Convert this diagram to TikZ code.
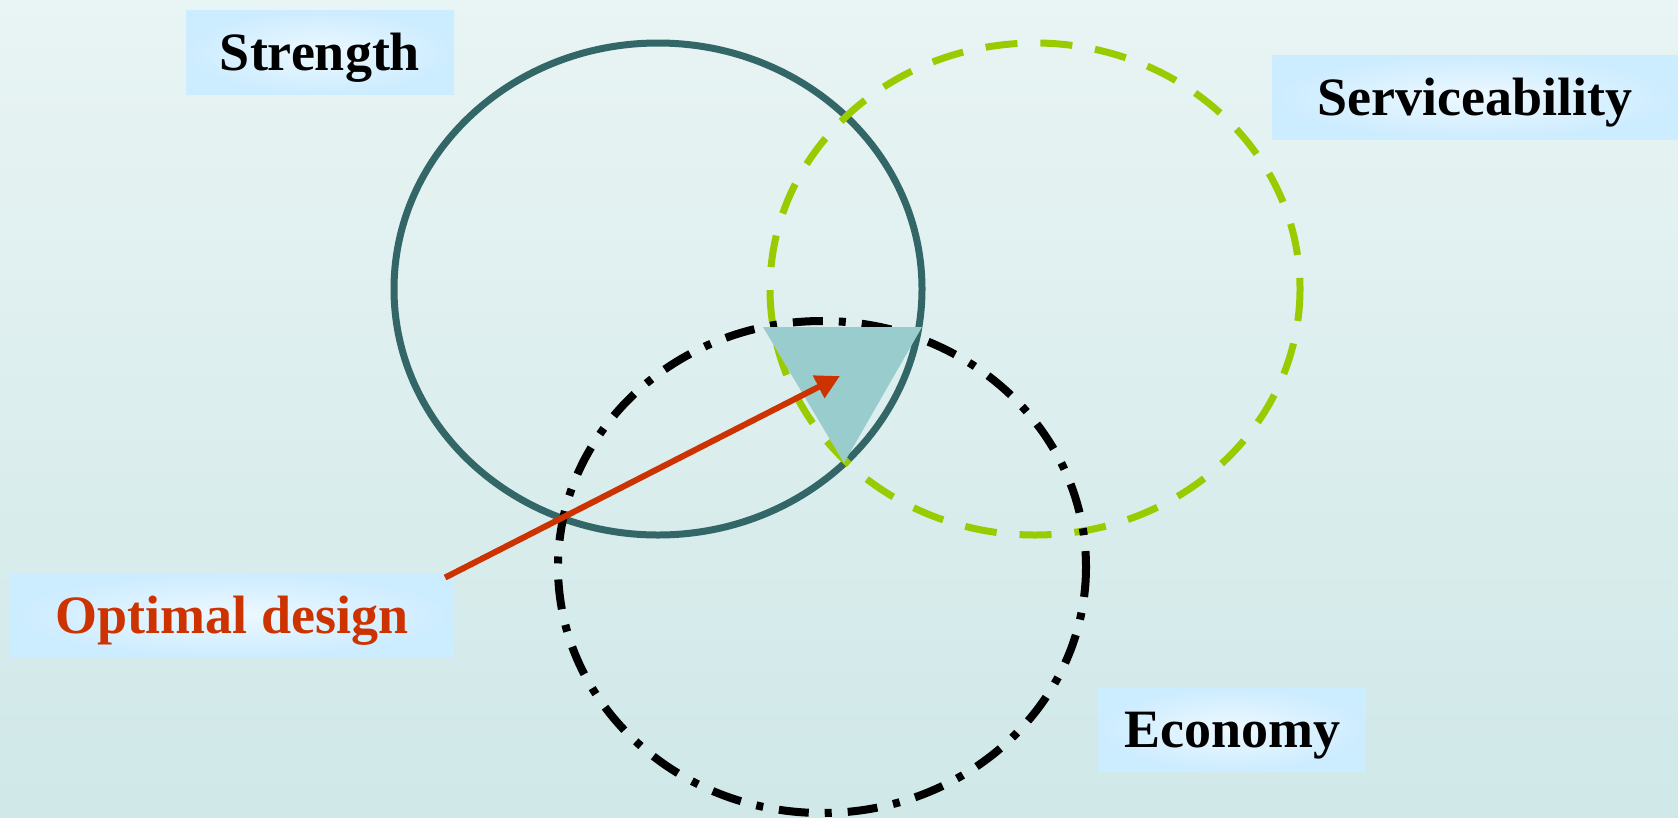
\documentclass[tikz,border=0pt]{standalone}
\usepackage{fontspec}
\setmainfont{Liberation Serif}
\usetikzlibrary{positioning,calc,arrows.meta}
\definecolor{bgtop}{RGB}{233,244,244}
\definecolor{bgbot}{RGB}{208,232,232}
\definecolor{tagblue}{RGB}{204,236,255}
\definecolor{strline}{HTML}{336666}
\definecolor{srvline}{HTML}{99CC00}
\definecolor{optred}{HTML}{CC3300}
\definecolor{zone}{HTML}{99CCCC}

\begin{document}
\begin{tikzpicture}[x=1pt,y=-1pt]
  \tikzset{
    tag/.style={inner sep=0pt,outer sep=0pt,minimum height=84pt,
                text height=37pt,text depth=0pt,
                inner color=tagblue!35!white,outer color=tagblue,
                font=\fontsize{54}{60}\selectfont\bfseries},
    ring/.style={line width=7pt},
  }
  % ---- background ----
  \shade[top color=bgtop,bottom color=bgbot] (0,0) rectangle (1678,817);
  \useasboundingbox (0,0) rectangle (1678,817);
  % ---- the three demands ----
  \draw[ring,strline] (658,289) ellipse [x radius=264,y radius=246];
  \draw[ring,srvline,dash pattern=on 32pt off 23pt] (1035,289) ellipse [x radius=265,y radius=246];
  \draw[line width=8pt,black,dash pattern=on 30pt off 16pt on 7pt off 16pt]
       (822,567) ellipse [x radius=264,y radius=246];
  % ---- common zone ----
  \fill[zone] (763,327) -- (922,327) -- (844,463) -- cycle;
  \coordinate (best) at (840,376);
  % ---- labels ----
  \node[tag,minimum width=268pt] (strength) at (320,52) {Strength};
  \node[tag,minimum width=406pt] (service) at (1475,97) {Serviceability};
  \node[tag,minimum width=268pt] (economy) at (1232,729) {Economy};
  \node[tag,minimum width=444pt,text=optred] (optimal) at (232,615) {Optimal design};
  \draw[optred,line width=6pt,shorten <=-10pt,-{Triangle[length=24pt,width=24pt]}]
       (optimal.north east) -- (best);
\end{tikzpicture}
\end{document}
